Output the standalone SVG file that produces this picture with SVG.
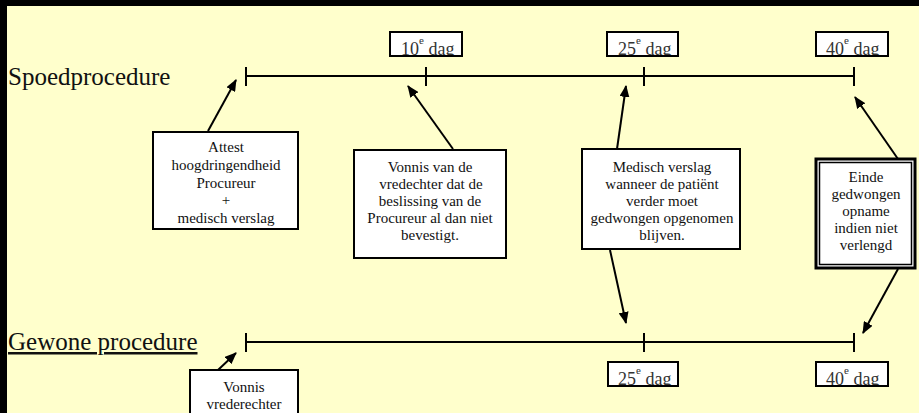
<svg xmlns="http://www.w3.org/2000/svg" width="919" height="413" viewBox="0 0 919 413">
<style>
.lbl{font-family:"Liberation Serif","Times New Roman",serif;font-size:25px;fill:#111}
.t{font-family:"Liberation Serif","Times New Roman",serif;font-size:15px;fill:#111;text-anchor:middle}
.d{font-family:"Liberation Serif","Times New Roman",serif;font-size:18px;fill:#333}
.sup{font-size:11px}
.box{fill:#fff;stroke:#000;stroke-width:2}
.boxs{fill:none;stroke:#000;stroke-width:2}
.tl{stroke:#000;stroke-width:2;fill:none}
.conn line{stroke:#000;stroke-width:2}
</style>
<defs>
<marker id="ah" markerUnits="userSpaceOnUse" markerWidth="12" markerHeight="10" refX="11" refY="5" orient="auto">
<path d="M0,0 L12,5 L0,10 z" fill="#000"/>
</marker>
<clipPath id="c1" clipPathUnits="userSpaceOnUse"><rect x="390" y="32" width="72" height="24"/></clipPath>
<clipPath id="c2" clipPathUnits="userSpaceOnUse"><rect x="607" y="32" width="71" height="24"/></clipPath>
<clipPath id="c3" clipPathUnits="userSpaceOnUse"><rect x="816" y="32" width="72" height="24"/></clipPath>
<clipPath id="c4" clipPathUnits="userSpaceOnUse"><rect x="608" y="362" width="70" height="24"/></clipPath>
<clipPath id="c5" clipPathUnits="userSpaceOnUse"><rect x="816" y="362" width="72" height="24"/></clipPath>
</defs>
<rect x="0" y="0" width="919" height="413" fill="#000"/>
<rect x="7" y="6" width="912" height="407" fill="#FFFFCC"/>

<g id="label-spoed"><text class="lbl" x="8" y="85">Spoedprocedure</text></g>
<g id="label-gewone"><text class="lbl" x="8" y="350" text-decoration="underline">Gewone procedure</text></g>

<g id="timeline-spoed">
<line class="tl" x1="246" y1="76" x2="854" y2="76"/>
<line class="tl" x1="246" y1="67" x2="246" y2="86"/>
<line class="tl" x1="426" y1="67" x2="426" y2="86"/>
<line class="tl" x1="644" y1="67" x2="644" y2="86"/>
<line class="tl" x1="854" y1="67" x2="854" y2="86"/>
</g>
<g id="timeline-gewone">
<line class="tl" x1="246" y1="342" x2="854" y2="342"/>
<line class="tl" x1="246" y1="333" x2="246" y2="352"/>
<line class="tl" x1="644" y1="333" x2="644" y2="352"/>
<line class="tl" x1="854" y1="333" x2="854" y2="352"/>
</g>

<g id="day10">
<rect x="390" y="32" width="72" height="24" fill="#fff"/>
<text class="d" x="401" y="55" clip-path="url(#c1)">10<tspan class="sup" dy="-11">e</tspan><tspan dy="11"> dag</tspan></text>
<rect class="boxs" x="390" y="32" width="72" height="24"/>
</g>
<g id="day25">
<rect x="607" y="32" width="71" height="24" fill="#fff"/>
<text class="d" x="618" y="55" clip-path="url(#c2)">25<tspan class="sup" dy="-11">e</tspan><tspan dy="11"> dag</tspan></text>
<rect class="boxs" x="607" y="32" width="71" height="24"/>
</g>
<g id="day40">
<rect x="816" y="32" width="72" height="24" fill="#fff"/>
<text class="d" x="826" y="55" clip-path="url(#c3)">40<tspan class="sup" dy="-11">e</tspan><tspan dy="11"> dag</tspan></text>
<rect class="boxs" x="816" y="32" width="72" height="24"/>
</g>
<g id="day25b">
<rect x="608" y="362" width="70" height="24" fill="#fff"/>
<text class="d" x="618" y="385" clip-path="url(#c4)">25<tspan class="sup" dy="-11">e</tspan><tspan dy="11"> dag</tspan></text>
<rect class="boxs" x="608" y="362" width="70" height="24"/>
</g>
<g id="day40b">
<rect x="816" y="362" width="72" height="24" fill="#fff"/>
<text class="d" x="826" y="385" clip-path="url(#c5)">40<tspan class="sup" dy="-11">e</tspan><tspan dy="11"> dag</tspan></text>
<rect class="boxs" x="816" y="362" width="72" height="24"/>
</g>

<g id="connectors" class="conn">
<line x1="208" y1="131" x2="236" y2="80" marker-end="url(#ah)"/>
<line x1="453" y1="149" x2="408" y2="86" marker-end="url(#ah)"/>
<line x1="617" y1="149" x2="626" y2="86" marker-end="url(#ah)"/>
<line x1="610" y1="250" x2="626" y2="323" marker-end="url(#ah)"/>
<line x1="898" y1="159" x2="855" y2="97" marker-end="url(#ah)"/>
<line x1="898" y1="269" x2="863" y2="333" marker-end="url(#ah)"/>
<line x1="218" y1="370" x2="236" y2="353" marker-end="url(#ah)"/>
</g>

<g id="attest">
<rect class="box" x="153" y="132" width="145" height="97"/>
<text class="t" x="226" y="152">Attest</text>
<text class="t" x="226" y="170">hoogdringendheid</text>
<text class="t" x="226" y="188">Procureur</text>
<text class="t" x="226" y="205">+</text>
<text class="t" x="226" y="223">medisch verslag</text>
</g>

<g id="vonnis">
<rect class="box" x="354" y="150" width="152" height="108"/>
<text class="t" x="430" y="172">Vonnis van de</text>
<text class="t" x="431" y="189">vredechter dat de</text>
<text class="t" x="430" y="206">beslissing van de</text>
<text class="t" x="430" y="223">Procureur al dan niet</text>
<text class="t" x="430" y="240">bevestigt.</text>
</g>

<g id="medisch">
<rect class="box" x="582" y="149" width="158" height="100"/>
<text class="t" x="662" y="172">Medisch verslag</text>
<text class="t" x="662" y="189">wanneer de patiënt</text>
<text class="t" x="662" y="206">verder moet</text>
<text class="t" x="662" y="223">gedwongen opgenomen</text>
<text class="t" x="662" y="240">blijven.</text>
</g>

<g id="einde">
<rect x="816" y="159" width="99" height="109" fill="#fff" stroke="#000" stroke-width="3"/>
<rect x="819.5" y="162.5" width="92" height="102" fill="none" stroke="#000" stroke-width="1.5"/>
<text class="t" x="866" y="182">Einde</text>
<text class="t" x="866" y="199">gedwongen</text>
<text class="t" x="866" y="216">opname</text>
<text class="t" x="866" y="233">indien niet</text>
<text class="t" x="866" y="250">verlengd</text>
</g>

<g id="vonnis-vrederechter">
<rect class="box" x="190" y="370" width="108" height="60"/>
<text class="t" x="244" y="392">Vonnis</text>
<text class="t" x="244" y="409">vrederechter</text>
</g>
</svg>
